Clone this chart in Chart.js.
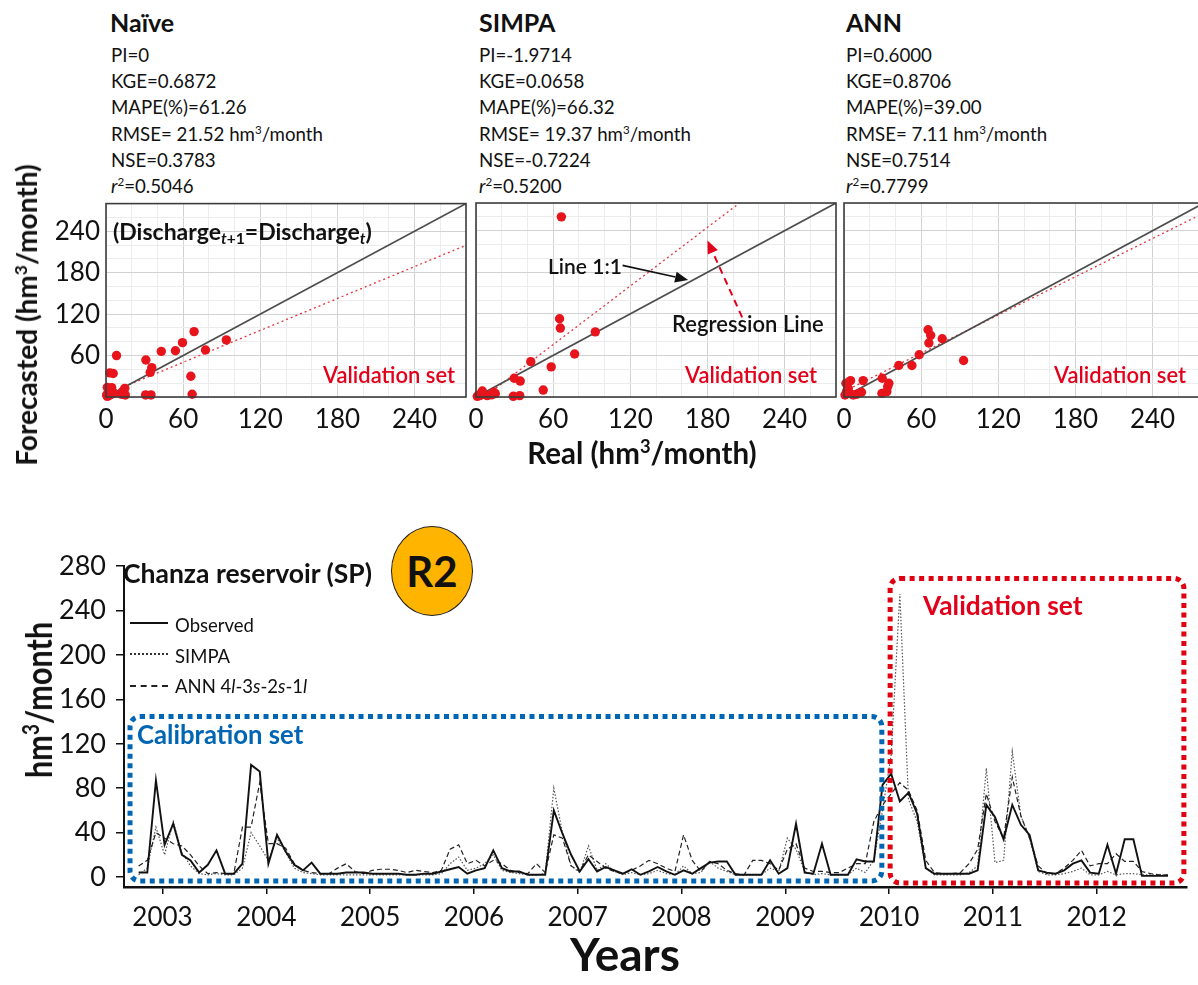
<!DOCTYPE html>
<html><head><meta charset="utf-8">
<script src="https://cdn.jsdelivr.net/npm/chart.js@4/dist/chart.umd.min.js"></script>
<style>
html,body{margin:0;padding:0;background:#fff;width:1198px;height:985px;overflow:hidden;position:relative;font-family:Lato,"Open Sans",sans-serif;color:#111;}
.t{position:absolute;white-space:nowrap;line-height:1;}
.blk{position:absolute;white-space:nowrap;font-size:18.7px;line-height:26.2px;}
.cv{position:absolute;}
sup{font-size:0.62em;vertical-align:0.6em;line-height:0;}
sub{font-size:0.68em;vertical-align:-0.28em;line-height:0;}
.red{color:#e2001a;}
.leg{position:absolute;left:130px;width:38px;height:0;}
</style></head><body>

<!-- top panel stats -->
<div class="t" style="left:110px;top:10px;font-size:25px;font-weight:700;">Naïve</div>
<div class="blk" style="left:111px;top:42px;">PI=0<br>KGE=0.6872<br>MAPE(%)=61.26<br>RMSE= 21.52 hm<sup>3</sup>/month<br>NSE=0.3783<br><i>r</i><sup>2</sup>=0.5046</div>
<div class="t" style="left:479px;top:10px;font-size:25px;font-weight:700;">SIMPA</div>
<div class="blk" style="left:479px;top:42px;">PI=-1.9714<br>KGE=0.0658<br>MAPE(%)=66.32<br>RMSE= 19.37 hm<sup>3</sup>/month<br>NSE=-0.7224<br><i>r</i><sup>2</sup>=0.5200</div>
<div class="t" style="left:846px;top:10px;font-size:25px;font-weight:700;">ANN</div>
<div class="blk" style="left:846px;top:42px;">PI=0.6000<br>KGE=0.8706<br>MAPE(%)=39.00<br>RMSE= 7.11 hm<sup>3</sup>/month<br>NSE=0.7514<br><i>r</i><sup>2</sup>=0.7799</div>

<canvas id="p1" class="cv" width="440" height="258" style="left:40px;top:182px;"></canvas>
<canvas id="p2" class="cv" width="430" height="250" style="left:420px;top:190px;"></canvas>
<canvas id="p3" class="cv" width="430" height="250" style="left:790px;top:190px;"></canvas>

<div class="t" style="left:113px;top:220px;font-size:23px;font-weight:700;">(Discharge<sub><i>t</i>+1</sub>=Discharge<sub><i>t</i></sub>)</div>
<div class="t red" style="left:323px;top:364px;font-size:22px;font-weight:600;">Validation set</div>
<div class="t red" style="left:685px;top:364px;font-size:22px;font-weight:600;">Validation set</div>
<div class="t red" style="left:1054px;top:364px;font-size:22px;font-weight:600;">Validation set</div>
<div class="t" style="left:548px;top:255px;font-size:21px;font-weight:600;">Line 1:1</div>
<div class="t" style="left:672px;top:313px;font-size:22px;font-weight:600;">Regression Line</div>

<div class="t" style="left:26px;top:315px;font-size:28px;font-weight:700;transform:translate(-50%,-50%) rotate(-90deg);">Forecasted (hm<sup>3</sup>/month)</div>
<div class="t" style="left:642px;top:438px;font-size:29.5px;font-weight:700;transform:translateX(-50%);">Real (hm<sup>3</sup>/month)</div>

<!-- bottom chart -->
<canvas id="ts" class="cv" width="1198" height="445" style="left:0;top:540px;"></canvas>

<div class="t" style="left:123px;top:560px;font-size:26.5px;font-weight:700;">Chanza reservoir (SP)</div>
<div style="position:absolute;left:391px;top:526px;width:80px;height:88px;border-radius:50%;background:#ffb400;border:1.5px solid #222;"></div>
<div class="t" style="left:432px;top:571px;font-size:42px;font-weight:700;transform:translate(-50%,-50%);">R2</div>

<div class="leg" style="top:622px;border-top:2px solid #111;"></div>
<div class="leg" style="top:653px;border-top:2px dotted #333;"></div>
<div class="leg" style="top:685px;border-top:2px dashed #222;"></div>
<div class="t" style="left:175px;top:616px;font-size:18.5px;">Observed</div>
<div class="t" style="left:175px;top:647px;font-size:18.5px;">SIMPA</div>
<div class="t" style="left:175px;top:677px;font-size:18.5px;">ANN 4<i>l</i>-3<i>s</i>-2<i>s</i>-1<i>l</i></div>

<div class="t" style="left:137px;top:722px;font-size:25.7px;font-weight:700;color:#0065b3;">Calibration set</div>
<div class="t red" style="left:923px;top:592px;font-size:26.3px;font-weight:700;">Validation set</div>

<div class="t" style="left:38px;top:700px;font-size:36px;font-weight:700;transform:translate(-50%,-50%) rotate(-90deg) scaleX(0.85);">hm<sup>3</sup>/month</div>
<div class="t" style="left:625px;top:931px;font-size:46px;font-weight:700;transform:translateX(-50%);">Years</div>

<script>
// ---------- scatter data (Real, Forecasted) validation set ----------
const naivePts = [[68.5,94.7],[59.5,78.7],[54,67],[43,66],[31,53.6],[35.6,42.5],[34.4,35.7],[8.2,60],[3,35],[5.6,34],[77.4,68],[93.6,82.6],[66,30],[67,4],[30.8,3],[35,3],[4.4,13.5],[3,8],[0.5,3],[13,8],[14.6,12.5],[2,2],[6,5],[1,1],[3,3],[12,4],[4,6],[15,3],[1,14]];
const simpaPts = [[66.4,260],[65,113],[65.6,99.5],[92.8,94],[76.7,62],[42.6,51],[58.5,43.5],[29.7,27],[34.4,23],[52.3,10],[29,1],[34,2],[4.9,8.7],[13.8,6.8],[15,4.8],[2.3,3],[8.7,2],[1,1],[3,2],[12,3],[6,4]];
const annPts = [[65.4,97],[67.4,89],[66,78],[76.4,84],[58.5,61],[93,52.7],[42.6,45.4],[52.8,45.4],[29.7,27],[34.9,19.8],[33.3,7.7],[29.5,5.3],[14.9,23.7],[5.1,23.7],[1.5,19.8],[13.6,6.8],[3.3,12.6],[4.6,5.3],[0.8,2.9],[7.2,2.9],[34,15],[2,8],[10,4]];
const regSlopes = [0.77, 1.41, 0.92];
const regIntercepts = [4, -9, 8];
const scatterGrid = [0,20,40,60,80,100,120,140,160,180,200,220,240,260,280];
const scatterXLabels = [0,60,120,180,240];
const scatterYLabels = [60,120,180,240];
const scatterMax = 280;
// panel-2 annotation arrows in data units [x1,y1,x2,y2]
const arrowLine11 = [114, 190, 165, 169];
const arrowRegression = [207, 115, 180, 226];

// ---------- monthly series, Oct 2002 - Sep 2012 (hm3/month) ----------
const startYear = 2002, startMonth = 10;
const observed = [
 4,4,87,29,48,20,15,4,11,24,3,3,
 12,101,95,12,38,23,11,6,13,3,3,3,
 4,4,4,3,3,3,3,2,2,3,3,5,
 7,9,3,6,8,24,8,5,5,2,2,2,
 60,39,20,5,16,5,9,6,3,7,2,5,
 9,5,2,6,3,8,13,14,14,2,2,2,
 2,15,3,8,48,4,3,30,2,2,2,16,
 14,14,83,93,68,76,57,8,3,3,3,3,
 3,6,65,54,34,65,47,38,6,4,3,6,
 12,15,4,3,29,3,34,34,1,1,1,1];
const simpa = [
 2,8,45,20,50,22,10,3,2,3,2,2,
 8,40,28,15,35,22,8,4,3,2,2,2,
 2,2,2,2,2,2,2,2,2,2,2,3,
 12,18,6,8,12,20,6,4,3,2,2,3,
 80,40,10,4,28,6,12,5,2,4,2,3,
 6,3,2,10,3,4,14,8,5,2,2,2,
 2,8,5,35,25,5,2,3,2,2,2,8,
 4,15,60,110,255,70,50,8,2,2,2,2,
 4,10,98,13,15,113,55,35,5,2,2,3,
 5,8,2,2,5,2,3,3,2,2,2,2];
const ann = [
 10,15,40,35,30,28,20,10,3,4,3,3,
 45,45,85,30,30,26,12,6,4,3,3,8,
 12,5,3,6,7,7,6,4,6,5,4,6,
 25,29,12,15,10,15,12,6,4,3,12,4,
 38,35,10,5,20,14,8,5,3,6,10,15,
 12,8,5,38,15,5,14,12,6,3,2,15,
 15,12,6,25,30,8,5,5,4,4,8,12,
 12,50,65,75,85,78,60,15,4,3,3,4,
 12,25,75,50,35,90,55,35,10,3,3,8,
 15,24,10,12,12,21,14,14,5,3,2,2];
const yearTicks = [2003,2004,2005,2006,2007,2008,2009,2010,2011,2012];
const flowTicks = [0,40,80,120,160,200,240,280];
const xRange = [2002.629, 2012.87];
const yRange = [-9, 280];
// annotation boxes in data units [x1, x2, yBottom, yTop]
const calibrationBox = [2002.687, 2009.93, -3.6, 144.5];
const validationBox = [2010.01, 2012.84, -5.4, 269];

function monthX(k){ return startYear + (startMonth - 1 + k) / 12 + 0.02; }
function series(vals){ return vals.map((v,k)=>({x:monthX(k), y:v})); }

Chart.defaults.font.family = 'Lato';

const framePlugin = {
  id:'frame',
  afterDraw(chart){
    const {ctx, chartArea:a} = chart;
    ctx.save(); ctx.strokeStyle='#3c3c3c'; ctx.lineWidth=1.6;
    ctx.strokeRect(a.left, a.top, a.right-a.left, a.bottom-a.top);
    ctx.restore();
  }
};

function arrow(ctx, x1,y1,x2,y2, color, width, dash, headLen, headW){
  const ang = Math.atan2(y2-y1, x2-x1);
  const bx = x2 - headLen*Math.cos(ang), by = y2 - headLen*Math.sin(ang);
  ctx.save();
  ctx.strokeStyle=color; ctx.fillStyle=color; ctx.lineWidth=width; ctx.setLineDash(dash);
  ctx.beginPath(); ctx.moveTo(x1,y1); ctx.lineTo(bx,by); ctx.stroke();
  ctx.setLineDash([]);
  ctx.beginPath(); ctx.moveTo(x2,y2);
  ctx.lineTo(bx + headW/2*Math.sin(ang), by - headW/2*Math.cos(ang));
  ctx.lineTo(bx - headW/2*Math.sin(ang), by + headW/2*Math.cos(ang));
  ctx.closePath(); ctx.fill();
  ctx.restore();
}

const arrowPlugin = {
  id:'arrows',
  afterDraw(chart){
    if(!chart.options.plugins.arrows || !chart.options.plugins.arrows.on) return;
    const {ctx, scales:{x,y}} = chart;
    const a = arrowLine11, b = arrowRegression;
    arrow(ctx, x.getPixelForValue(a[0]), y.getPixelForValue(a[1]), x.getPixelForValue(a[2]), y.getPixelForValue(a[3]), '#111', 1.6, [], 13, 11);
    arrow(ctx, x.getPixelForValue(b[0]), y.getPixelForValue(b[1]), x.getPixelForValue(b[2]), y.getPixelForValue(b[3]), '#e2001a', 2, [7,5], 13, 11);
  }
};

const gridColor = c => (c.tick && c.tick.value % 60 === 0) ? '#d2d2d2' : '#ececec';

function makePanel(id, pts, idx, o){
  const s = regSlopes[idx], b = regIntercepts[idx];
  new Chart(document.getElementById(id), {
    type:'scatter',
    data:{datasets:[
      {data:pts.map(p=>({x:p[0],y:p[1]})), pointRadius:4.7, pointBackgroundColor:'#e8141c', pointBorderWidth:0, clip:false, order:0},
      {data:[{x:0,y:0},{x:scatterMax,y:scatterMax}], showLine:true, borderColor:'#4d4d4d', borderWidth:1.7, pointRadius:0, order:1},
      {data:[{x:0,y:b},{x:scatterMax,y:s*scatterMax+b}], showLine:true, borderColor:'#e8323a', borderWidth:1.3, borderDash:[2,3], pointRadius:0, order:2}
    ]},
    options:{
      responsive:false, animation:false, devicePixelRatio:1, events:[],
      layout:{padding:{top:o.padTop,right:o.padRight,left:0,bottom:0}},
      plugins:{legend:{display:false}, tooltip:{enabled:false}, arrows:{on:!!o.arrows}},
      scales:{
        x:{type:'linear', min:0, max:scatterMax,
           afterBuildTicks:sc=>{sc.ticks=scatterGrid.map(v=>({value:v}));},
           afterFit:sc=>{sc.height=43;},
           ticks:{autoSkip:false, maxRotation:0, padding:7, font:{size:26}, color:'#111',
                  callback:v=>scatterXLabels.includes(v)?String(v):''},
           grid:{drawTicks:false, color:gridColor, lineWidth:1}, border:{display:false}},
        y:{type:'linear', min:0, max:scatterMax,
           afterBuildTicks:sc=>{sc.ticks=scatterGrid.map(v=>({value:v}));},
           afterFit:sc=>{sc.width=o.yW;},
           ticks:{display:!!o.yLabels, autoSkip:false, padding:6, font:{size:26}, color:'#111',
                  callback:v=>scatterYLabels.includes(v)?String(v):''},
           grid:{drawTicks:false, color:gridColor, lineWidth:1}, border:{display:false}}
      }
    },
    plugins:[framePlugin, arrowPlugin]
  });
}

makePanel('p1', naivePts, 0, {padTop:5, padRight:14, yW:66, yLabels:true});
makePanel('p2', simpaPts, 1, {padTop:13, padRight:14, yW:56, arrows:true});
makePanel('p3', annPts, 2, {padTop:13, padRight:16, yW:54});

function roundRectPath(ctx, x, y, w, h, r){
  ctx.beginPath();
  ctx.moveTo(x+r, y); ctx.lineTo(x+w-r, y); ctx.arcTo(x+w, y, x+w, y+r, r);
  ctx.lineTo(x+w, y+h-r); ctx.arcTo(x+w, y+h, x+w-r, y+h, r);
  ctx.lineTo(x+r, y+h); ctx.arcTo(x, y+h, x, y+h-r, r);
  ctx.lineTo(x, y+r); ctx.arcTo(x, y, x+r, y, r); ctx.closePath();
}

const boxPlugin = {
  id:'boxes',
  afterDatasetsDraw(chart){
    const {ctx, scales:{x,y}} = chart;
    [[calibrationBox,'#0066b3'],[validationBox,'#e0000f']].forEach(([bx,col])=>{
      const x1=x.getPixelForValue(bx[0]), x2=x.getPixelForValue(bx[1]);
      const y1=y.getPixelForValue(bx[3]), y2=y.getPixelForValue(bx[2]);
      ctx.save(); ctx.strokeStyle=col; ctx.lineWidth=5; ctx.setLineDash([5,4.5]);
      roundRectPath(ctx, x1, y1, x2-x1, y2-y1, 10); ctx.stroke(); ctx.restore();
    });
  }
};

new Chart(document.getElementById('ts'), {
  type:'line',
  data:{datasets:[
    {label:'Observed', data:series(observed), borderColor:'#111', borderWidth:1.9, pointRadius:0, tension:0, order:0},
    {label:'ANN 4l-3s-2s-1l', data:series(ann), borderColor:'#222', borderWidth:1.2, borderDash:[5,3], pointRadius:0, tension:0, order:1},
    {label:'SIMPA', data:series(simpa), borderColor:'#555', borderWidth:1.2, borderDash:[1.5,1.8], pointRadius:0, tension:0, order:2}
  ]},
  options:{
    responsive:false, animation:false, devicePixelRatio:1, events:[],
    layout:{padding:{top:25,right:11,left:0,bottom:0}},
    plugins:{legend:{display:false}, tooltip:{enabled:false}},
    scales:{
      x:{type:'linear', min:xRange[0], max:xRange[1],
         afterBuildTicks:sc=>{sc.ticks=yearTicks.map(v=>({value:v}));},
         afterFit:sc=>{sc.height=98;},
         ticks:{autoSkip:false, maxRotation:0, padding:8, font:{size:26}, color:'#111', callback:v=>String(v)},
         grid:{display:true, drawOnChartArea:false, drawTicks:true, tickLength:7, color:'#111', lineWidth:1.5},
         border:{display:true, color:'#111', width:2.5}},
      y:{type:'linear', min:yRange[0], max:yRange[1],
         afterBuildTicks:sc=>{sc.ticks=flowTicks.map(v=>({value:v}));},
         afterFit:sc=>{sc.width=124;},
         ticks:{autoSkip:false, padding:10, font:{size:27}, color:'#111', callback:v=>String(v)},
         grid:{display:true, drawOnChartArea:false, drawTicks:true, tickLength:8, color:'#111', lineWidth:1.5},
         border:{display:true, color:'#111', width:2}}
    }
  },
  plugins:[boxPlugin]
});
</script>
</body></html>
